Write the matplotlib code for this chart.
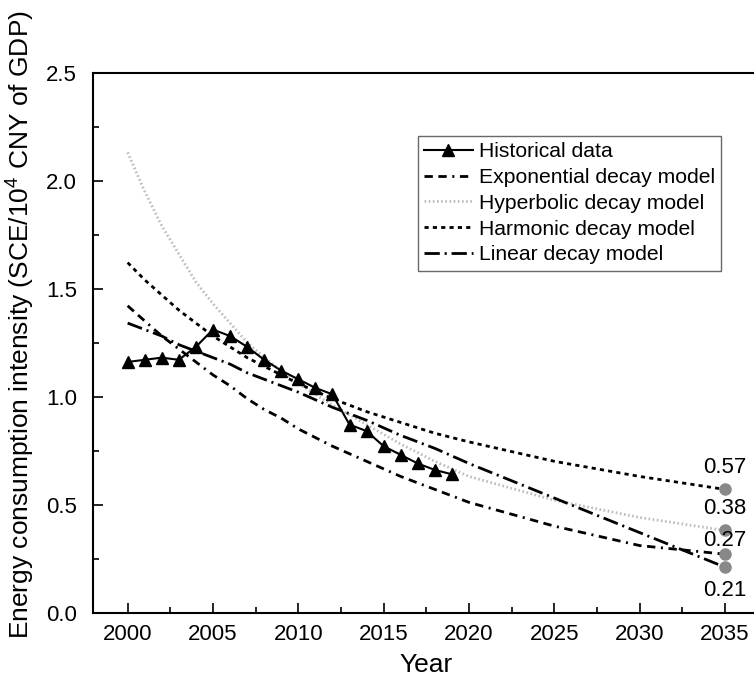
import matplotlib
matplotlib.use('Agg')
from matplotlib import pyplot as plt
from matplotlib.ticker import MultipleLocator

plt.rcParams['font.family'] = ['Liberation Sans', 'DejaVu Sans']
plt.rcParams['mathtext.fontset'] = 'custom'
plt.rcParams['mathtext.rm'] = 'Liberation Sans'
plt.rcParams['lines.scale_dashes'] = False

# historical energy consumption intensity
hist_years = list(range(2000, 2020))
hist_values = [1.16, 1.17, 1.18, 1.17, 1.23, 1.31, 1.28, 1.23, 1.17, 1.12,
               1.08, 1.04, 1.01, 0.87, 0.84, 0.77, 0.73, 0.69, 0.66, 0.64]

# fitted decay models
model_years = [2000, 2001, 2002, 2003, 2004, 2005, 2006, 2007, 2008, 2009,
               2010, 2012, 2014, 2016, 2018, 2020, 2025, 2030, 2035]
exponential = [1.42, 1.35, 1.28, 1.22, 1.16, 1.10, 1.05, 0.99, 0.94, 0.90,
               0.85, 0.77, 0.70, 0.63, 0.57, 0.51, 0.40, 0.31, 0.27]
hyperbolic = [2.13, 1.95, 1.79, 1.66, 1.53, 1.43, 1.34, 1.25, 1.18, 1.12,
              1.06, 0.96, 0.87, 0.78, 0.70, 0.63, 0.52, 0.44, 0.38]
harmonic = [1.62, 1.54, 1.47, 1.40, 1.34, 1.28, 1.23, 1.18, 1.14, 1.10,
            1.06, 0.99, 0.93, 0.88, 0.83, 0.79, 0.70, 0.63, 0.57]
linear = [1.34, 1.31, 1.28, 1.24, 1.21, 1.18, 1.15, 1.11, 1.08, 1.05,
          1.02, 0.95, 0.89, 0.82, 0.76, 0.69, 0.53, 0.37, 0.21]

# 2035 projections
end_year = 2035
end_values = [0.57, 0.38, 0.27, 0.21]
end_offsets = [8, 8, 2, -9]

fig = plt.figure(figsize=(7.54, 6.88), dpi=100)
ax = fig.add_axes([0.124, 0.1097, 0.8828, 0.7849])

lw = 2.0
ax.plot(hist_years, hist_values, color='black', lw=1.5, marker='^',
        markersize=9, label='Historical data', zorder=5)
ax.plot(model_years, exponential, color='black', lw=lw,
        dashes=(6, 4, 6, 4, 1.5, 4), label='Exponential decay model')
ax.plot(model_years, hyperbolic, color='#bdbdbd', lw=lw,
        dashes=(1.2, 1.8), label='Hyperbolic decay model')
ax.plot(model_years, harmonic, color='black', lw=lw,
        dashes=(3, 3), label='Harmonic decay model')
ax.plot(model_years, linear, color='black', lw=lw,
        dashes=(11, 3.5, 1.5, 3.5), label='Linear decay model')

ax.plot([end_year] * len(end_values), end_values, 'o', color='#888888',
        markersize=8, zorder=6)
for v, off in zip(end_values, end_offsets):
    ax.annotate(f'{v:.2f}', (end_year, v), xytext=(0, off),
                textcoords='offset points', ha='center',
                va='bottom' if off > 0 else 'top', fontsize=16, zorder=7)

ax.set_xlim(1998, 2037)
ax.set_ylim(0, 2.5)
ax.xaxis.set_major_locator(MultipleLocator(5))
ax.xaxis.set_minor_locator(MultipleLocator(2.5))
ax.yaxis.set_major_locator(MultipleLocator(0.5))
ax.yaxis.set_minor_locator(MultipleLocator(0.25))
ax.yaxis.set_major_formatter(plt.FormatStrFormatter('%.1f'))

ax.tick_params(which='both', direction='in', top=False, right=False, width=1.2)
ax.tick_params(which='major', length=7, labelsize=16)
ax.tick_params(which='minor', length=4)
ax.tick_params(axis='x', which='major', pad=8)
ax.tick_params(axis='y', which='major', pad=12)
for s in ax.spines.values():
    s.set_linewidth(1.5)

ax.set_xlabel('Year', fontsize=19, labelpad=6)
ax.set_ylabel(r'Energy consumption intensity (SCE/10$^{\mathregular{4}}$ CNY of GDP)',
              fontsize=19)
ax.yaxis.set_label_coords(-0.086, 0.534)

leg = ax.legend(loc='upper left', bbox_to_anchor=(0.554, 0.8023),
                bbox_transform=fig.transFigure, fontsize=15.2, frameon=True,
                fancybox=False, borderaxespad=0, borderpad=0.3,
                labelspacing=0.32, handlelength=2.3, handletextpad=0.3)
leg.get_frame().set_edgecolor('#444444')
leg.get_frame().set_linewidth(1.0)

plt.savefig('out.png', dpi=100)
